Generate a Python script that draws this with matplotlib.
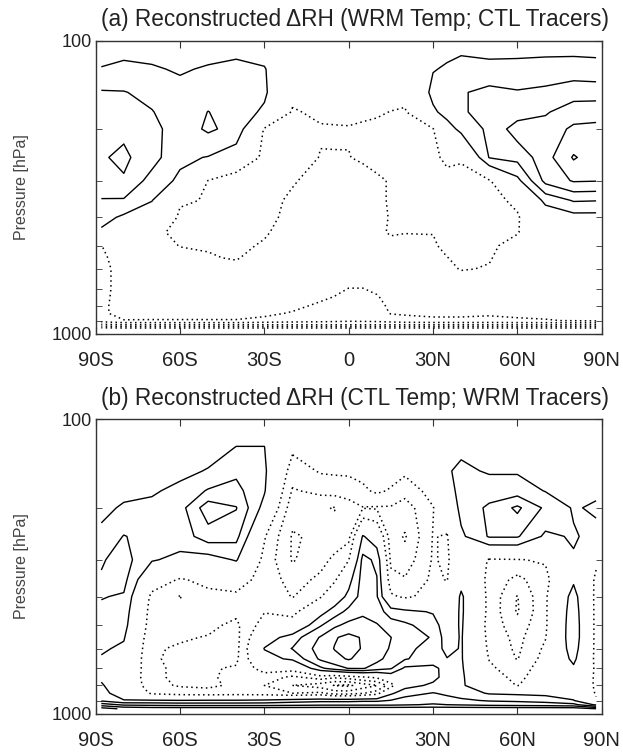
import numpy as np
import matplotlib.pyplot as plt
from matplotlib.ticker import FixedLocator, NullFormatter

plt.rcParams['font.family'] = ['Liberation Sans', 'DejaVu Sans']

# grid
lats = [-88, -80, -70, -60, -50, -40, -30, -20, -10, -5, 0, 5, 10, 15, 20, 30, 35, 40, 50, 60, 70, 80, 88]
pres = [100, 125, 150, 175, 200, 250, 300, 350, 400, 450, 500, 550, 600, 650, 700, 750, 800, 850, 900, 930, 960]

xtick_pos = [-90, -60, -30, 0, 30, 60, 90]
xtick_lab = ['90S', '60S', '30S', '0', '30N', '60N', '90N']

# (a) one column per latitude, top (100 hPa) to bottom
drh_a = [
    [0.5, 1.05, 2.1, 2.5, 2.8, 2.9, 2.5, 1.95, 1.4, 0.8, -1.02, -1.2, -1.3, -1.3, -1.3, -1.25, -1.2, -1.2, -1.5, -3.2, -5.6],
    [0.6, 1.2, 2.05, 2.5, 2.8, 3.2, 2.9, 1.9, 0.8, 0.2, -0.3, -0.5, -0.6, -0.6, -0.6, -0.6, -0.6, -0.6, -1.05, -3.0, -5.5],
    [0.55, 1.1, 1.7, 2.05, 2.3, 2.4, 1.6, 1.05, 0.2, -0.9, -0.7, -0.6, -0.5, -0.45, -0.4, -0.45, -0.5, -0.7, -1.05, -3.0, -5.5],
    [0.5, 0.9, 1.3, 1.4, 1.5, 1.2, 0.8, -0.9, -1.15, -1.1, -1.02, -0.8, -0.6, -0.5, -0.4, -0.45, -0.5, -0.7, -1.05, -3.0, -5.5],
    [0.5, 1.1, 1.6, 2.02, 2.15, 0.95, -1.02, -1.05, -1.2, -1.2, -1.05, -0.95, -0.6, -0.5, -0.4, -0.45, -0.5, -0.7, -1.05, -3.0, -5.5],
    [0.5, 1.3, 1.75, 1.6, 1.7, 0.3, -1.8, -1.4, -1.4, -1.3, -1.2, -1.05, -0.8, -0.6, -0.4, -0.45, -0.5, -0.7, -1.05, -3.0, -5.5],
    [0.6, 1.05, 1.2, 0.8, -1.1, -1.3, -1.4, -1.4, -1.3, -1.1, -0.9, -0.7, -0.5, -0.4, -0.3, -0.45, -0.6, -0.75, -1.3, -3.0, -5.5],
    [0.2, 0.2, -0.7, -1.1, -1.5, -1.6, -1.1, -0.8, -0.7, -0.6, -0.5, -0.45, -0.4, -0.4, -0.4, -0.5, -0.7, -1.1, -1.5, -3.0, -5.5],
    [0.0, 0.0, -0.5, -0.8, -1.1, -0.95, -0.6, -0.5, -0.5, -0.5, -0.5, -0.45, -0.4, -0.45, -0.5, -0.8, -1.2, -1.3, -1.6, -3.0, -5.5],
    [0.0, 0.0, -0.45, -0.8, -1.07, -0.97, -0.55, -0.5, -0.55, -0.5, -0.45, -0.4, -0.35, -0.5, -0.7, -1.05, -1.25, -1.4, -1.7, -3.0, -5.5],
    [0.0, 0.0, -0.4, -0.8, -1.05, -0.98, -0.5, -0.5, -0.6, -0.5, -0.4, -0.35, -0.3, -0.6, -1.02, -1.2, -1.3, -1.5, -1.8, -3.0, -5.5],
    [0.0, 0.0, -0.5, -0.85, -1.12, -1.1, -0.7, -0.7, -0.7, -0.7, -0.5, -0.4, -0.35, -0.6, -1.02, -1.25, -1.3, -1.45, -1.75, -3.0, -5.5],
    [0.0, 0.0, -0.6, -0.9, -1.2, -1.2, -0.9, -0.9, -0.8, -0.9, -0.6, -0.5, -0.4, -0.5, -0.8, -1.1, -1.3, -1.4, -1.7, -3.0, -5.5],
    [0.1, 0.1, -0.65, -1.02, -1.25, -1.25, -1.05, -1.05, -1.05, -1.05, -0.85, -0.6, -0.5, -0.45, -0.45, -0.6, -0.8, -0.95, -1.5, -3.0, -5.5],
    [0.3, 0.3, -0.7, -1.1, -1.3, -1.3, -1.05, -1.05, -1.05, -1.02, -0.8, -0.65, -0.5, -0.45, -0.4, -0.45, -0.6, -0.9, -1.3, -3.0, -5.5],
    [0.6, 0.95, 1.3, 0.8, -1.05, -1.2, -1.2, -1.3, -1.1, -1.02, -0.9, -0.8, -0.7, -0.5, -0.3, -0.4, -0.6, -0.8, -1.2, -3.0, -5.5],
    [0.7, 1.1, 1.6, 1.4, 0.5, -0.8, -1.3, -1.4, -1.3, -1.3, -1.2, -0.98, -0.8, -0.6, -0.35, -0.5, -0.6, -0.8, -1.2, -3.0, -5.5],
    [0.8, 1.2, 1.9, 1.9, 1.3, -0.9, -1.3, -1.5, -1.5, -1.4, -1.3, -1.2, -1.05, -0.7, -0.4, -0.5, -0.6, -0.85, -1.15, -3.0, -5.5],
    [0.5, 1.3, 2.3, 2.3, 2.2, 2.05, -1.1, -1.3, -1.4, -1.2, -1.15, -1.05, -0.95, -0.7, -0.5, -0.5, -0.6, -0.9, -1.2, -3.0, -5.5],
    [0.7, 1.2, 2.1, 2.5, 3.5, 2.3, 0.7, -0.8, -1.1, -1.05, -0.7, -0.6, -0.5, -0.45, -0.4, -0.45, -0.55, -0.85, -1.1, -3.0, -5.5],
    [0.7, 1.25, 2.3, 2.9, 3.4, 3.6, 3.3, 1.3, 0.2, -0.2, -0.3, -0.3, -0.3, -0.3, -0.3, -0.4, -0.5, -0.8, -1.05, -3.0, -5.5],
    [0.5, 1.45, 2.6, 3.5, 4.2, 5.1, 4.1, 2.1, 0.6, 0.1, -0.2, -0.2, -0.2, -0.25, -0.3, -0.4, -0.5, -0.7, -0.95, -3.0, -5.5],
    [0.4, 1.45, 2.5, 3.7, 4.2, 4.5, 4.05, 2.05, 0.6, 0.1, -0.2, -0.2, -0.2, -0.25, -0.3, -0.4, -0.5, -0.7, -0.85, -3.0, -5.5],
]

# (b)
drh_b = [
    [0.2, 0.3, 0.4, 0.6, 0.8, 1.2, 1.9, 2.1, 2.05, 1.8, 1.6, 1.4, 1.15, 0.9, 0.8, 0.85, 1.1, 1.3, 1.8, 3.5, 5.5],
    [0.2, 0.35, 0.5, 0.8, 1.1, 2.05, 2.4, 2.3, 1.9, 1.6, 1.4, 1.1, 0.8, 0.5, 0.3, 0.2, 0.3, 0.5, 1.05, 2.8, 4.8],
    [0.1, 0.3, 0.6, 0.9, 1.2, 1.6, 1.1, -0.3, -1.3, -1.5, -1.6, -1.8, -1.9, -1.9, -1.8, -1.8, -1.7, -1.2, 1.1, 2.7, 4.6],
    [0.1, 0.4, 0.8, 1.2, 1.6, 1.5, 0.7, -1.1, -2.05, -1.6, -1.7, -1.9, -2.1, -2.2, -2.2, -2.2, -2.1, -1.5, 1.05, 2.6, 4.6],
    [0.3, 0.7, 1.05, 2.1, 3.6, 2.5, 0.5, -0.7, -1.3, -1.5, -1.8, -2.05, -2.1, -2.05, -2.1, -2.1, -2.2, -1.6, 1.1, 2.6, 4.6],
    [0.6, 1.02, 1.8, 2.3, 3.05, 2.3, 1.1, -0.5, -1.2, -1.8, -2.2, -2.3, -2.3, -2.2, -1.9, -1.8, -1.8, -1.5, 1.1, 2.6, 4.6],
    [0.6, 1.02, 1.2, 1.1, 0.6, -0.9, -1.3, -1.4, -1.3, -1.05, -0.5, 0.4, 1.05, 0.6, -0.5, -1.5, -2.0, -1.6, 1.2, 2.6, 4.6],
    [0.3, -0.8, -1.5, -2.1, -2.6, -3.1, -3.1, -2.4, -2.05, -1.4, -0.3, 1.5, 2.05, 1.2, -0.5, -2.2, -3.0, -2.0, 1.5, 2.7, 4.6],
    [0.0, -0.5, -0.9, -1.7, -2.9, -2.8, -2.3, -1.8, -1.1, 0.6, 1.9, 3.1, 3.4, 3.2, 1.8, -1.5, -3.5, -1.8, 1.7, 2.8, 4.6],
    [0.0, -0.4, -0.85, -1.6, -3.05, -2.5, -1.8, -1.2, 0.2, 1.5, 2.8, 3.9, 4.05, 3.7, 2.5, -1.8, -4.05, -2.5, 1.7, 2.8, 4.6],
    [0.0, -0.4, -0.8, -1.6, -2.4, -2.3, -1.05, 0.6, 1.3, 2.3, 3.3, 4.3, 4.5, 4.1, 3.05, -1.5, -4.2, -2.5, 1.7, 2.8, 4.6],
    [0.0, -0.3, -0.7, -1.2, -2.05, 1.1, 2.3, 2.4, 2.4, 2.8, 3.4, 3.9, 3.9, 3.6, 3.1, -1.1, -3.5, -2.1, 1.8, 2.8, 4.6],
    [0.0, -0.2, -0.5, -0.8, -2.1, 0.3, 1.8, 2.05, 2.1, 2.4, 3.1, 3.5, 3.5, 3.3, 2.5, -0.8, -3.05, -1.5, 1.8, 2.8, 4.6],
    [0.0, -0.2, -0.6, -1.1, -2.1, -2.5, -2.2, -1.7, -0.8, 1.6, 2.4, 3.02, 2.9, 2.6, 2.1, 0.2, -1.5, 0.8, 2.05, 2.8, 4.6],
    [0.1, -0.3, -0.8, -1.6, -2.5, -3.1, -2.6, -1.9, -1.2, 1.3, 2.2, 2.3, 2.2, 2.1, 0.8, 0.2, 0.6, 1.6, 2.4, 2.9, 4.6],
    [0.1, 0.2, 0.1, -0.6, -1.05, -0.95, -0.9, -0.8, -0.6, 0.9, 1.5, 1.95, 1.7, 1.4, 0.8, 0.7, 1.2, 2.05, 2.6, 3.1, 4.6],
    [0.2, 0.4, 0.9, 0.6, 0.0, -1.1, -1.2, -1.05, -0.5, 0.0, 0.3, 0.4, 0.6, 1.05, 1.3, 1.4, 1.1, 1.8, 2.4, 3.0, 4.6],
    [0.4, 0.8, 1.2, 1.3, 1.3, 0.8, 0.2, 0.6, 1.2, 1.2, 1.15, 1.1, 1.1, 1.1, 1.15, 1.2, 1.2, 1.5, 2.2, 2.9, 4.6],
    [0.4, 0.7, 0.9, 1.5, 2.2, 2.1, -1.1, -1.3, -1.3, -1.3, -1.4, -1.3, -1.2, -1.05, -0.8, -0.5, -0.2, 0.9, 1.9, 2.7, 4.6],
    [0.4, 0.7, 0.9, 1.5, 3.2, 2.1, -1.05, -2.3, -3.05, -3.1, -2.6, -2.3, -2.2, -2.05, -1.6, -1.3, -1.05, 0.8, 1.8, 2.6, 4.6],
    [0.3, 0.5, 0.7, 0.95, 1.8, 0.8, -0.9, -1.3, -1.15, -1.15, -1.15, -1.05, -0.8, -0.6, -0.4, -0.3, -0.2, 0.7, 1.6, 2.5, 4.6],
    [0.2, 0.3, 0.5, 0.7, 0.9, 1.1, 0.9, 0.8, 1.5, 1.7, 1.8, 1.8, 1.6, 1.3, 0.8, 0.4, 0.3, 0.5, 1.05, 2.3, 4.6],
    [0.2, 0.4, 0.6, 0.8, 1.15, 0.7, -0.8, -1.2, -1.3, -1.3, -1.3, -1.3, -1.3, -1.3, -1.2, -1.2, -1.2, -1.1, -0.9, 0.8, 4.0],
]

pos_levels = [1, 2, 3, 4, 5, 6]
neg_levels = [-6, -5, -4, -3, -2, -1]

titles = ['(a) Reconstructed \u0394RH (WRM Temp; CTL Tracers)',
          '(b) Reconstructed \u0394RH (CTL Temp; WRM Tracers)']

W, H = 623, 752
fig = plt.figure(figsize=(W / 100, H / 100), dpi=100)
tc = '#222222'

boxes = [(95.7, 40.7, 506, 293.3), (95.7, 419, 506, 295)]
for k, (data, title) in enumerate(zip([drh_a, drh_b], titles)):
    x0, y0, w, h = boxes[k]
    ax = fig.add_axes([x0 / W, 1 - (y0 + h) / H, w / W, h / H])
    Z = np.array(data).T
    ax.contour(lats, pres, Z, levels=pos_levels, colors='k',
               linestyles='solid', linewidths=1.0)
    ax.contour(lats, pres, Z, levels=neg_levels, colors='k',
               linestyles=[(0, (1.0, 2.2))], linewidths=1.1)
    ax.set_yscale('log')
    ax.set_ylim(1000, 100)
    ax.set_xlim(-90, 90)
    ax.set_xticks(xtick_pos)
    ax.set_xticklabels(xtick_lab)
    ax.yaxis.set_major_locator(FixedLocator([100, 1000]))
    ax.set_yticklabels(['100', '1000'])
    ax.yaxis.set_minor_locator(FixedLocator([200, 300, 400, 500, 600, 700, 800, 900]))
    ax.yaxis.set_minor_formatter(NullFormatter())
    ax.tick_params(axis='both', which='both', direction='in', top=True, right=True,
                   colors='#333333', labelcolor=tc)
    ax.tick_params(axis='x', which='major', length=5, labelsize=14.5, pad=12)
    ax.tick_params(axis='y', which='major', length=5, labelsize=13, pad=3)
    ax.tick_params(axis='y', which='minor', length=4)
    for s in ax.spines.values():
        s.set_color('#333333')
        s.set_linewidth(1.0)
    ax.set_ylabel('Pressure [hPa]', fontsize=11.5, color='#444444', labelpad=16)
    fig.text(355 / W, 1 - (y0 - 21) / H, title, ha='center', va='center',
             fontsize=16.3, color=tc)

fig.savefig('out.png', dpi=100)
